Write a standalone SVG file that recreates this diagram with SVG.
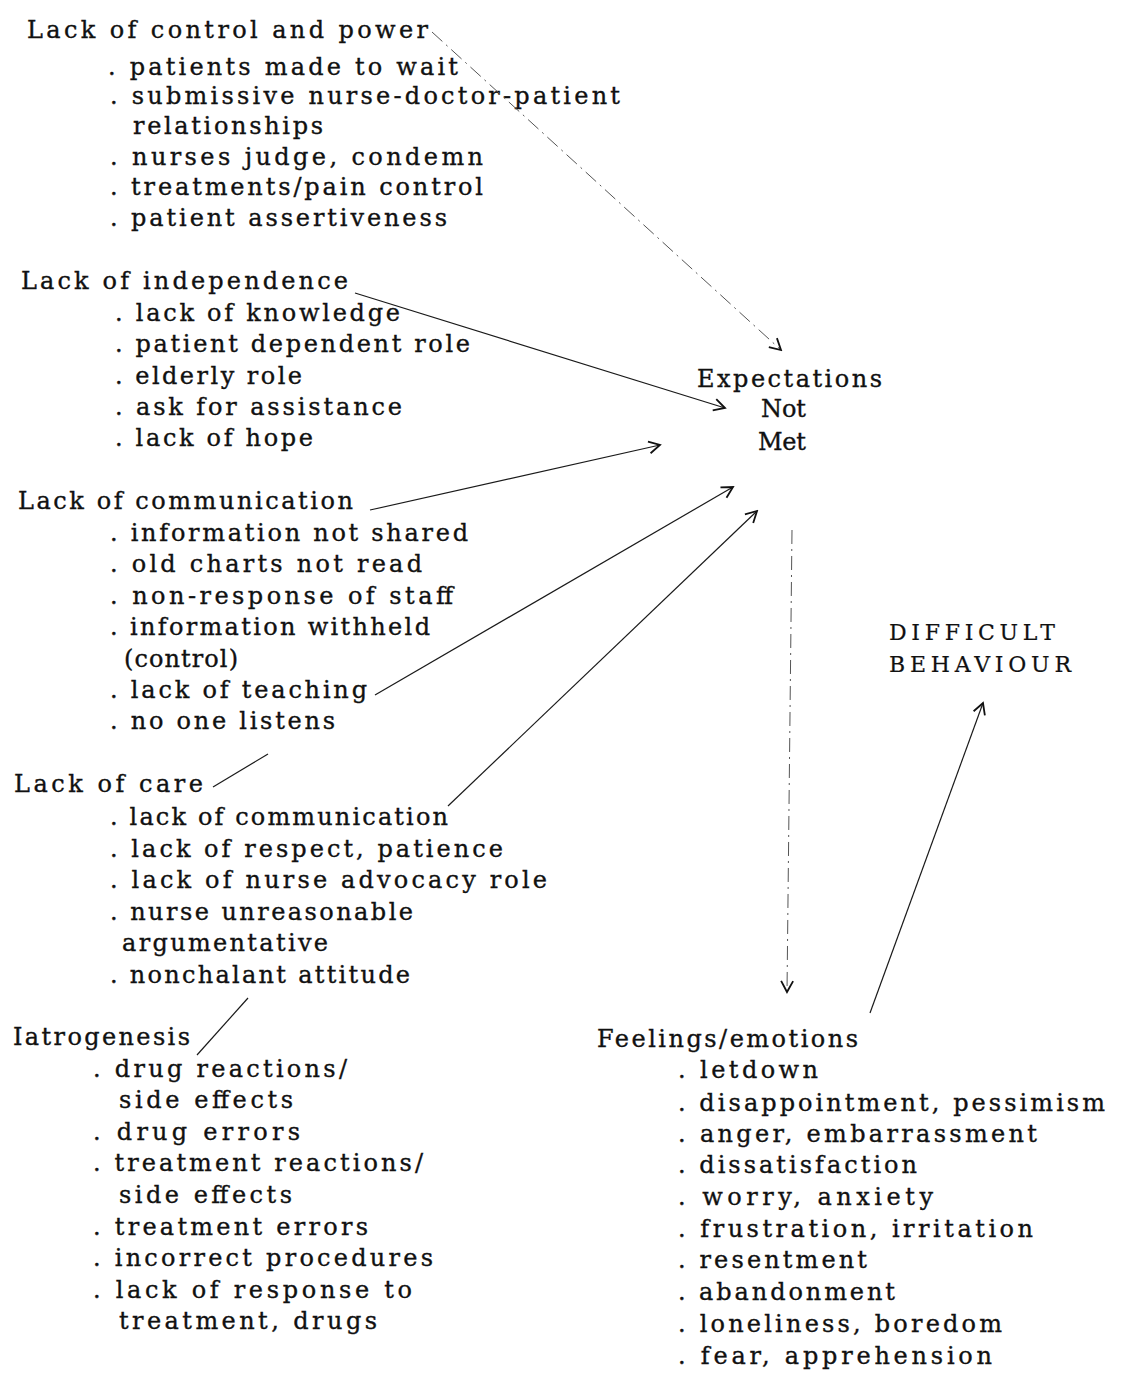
<svg xmlns="http://www.w3.org/2000/svg" width="1126" height="1385" viewBox="0 0 1126 1385">
<style>
text{font-family:"DejaVu Serif","Liberation Serif",serif;font-size:24px;fill:#111;stroke:#111;stroke-width:0.35;}
.cap{font-size:22px;stroke-width:0.2;}
.ln{stroke:#1a1a1a;stroke-width:1.2;fill:none;}
.faint{stroke:#555;stroke-width:1;stroke-dasharray:14 5 2 5;fill:none;}
</style>
<defs>
<marker id="ah" markerUnits="userSpaceOnUse" markerWidth="16" markerHeight="16" viewBox="0 0 16 16" refX="14" refY="8" orient="auto">
<path d="M3,2 L14,8 L3,14" fill="none" stroke="#111" stroke-width="1.8"/>
</marker>
</defs>
<rect width="1126" height="1385" fill="#fff"/>

<g id="control">
<text x="27" y="38" textLength="401" lengthAdjust="spacing">Lack of control and power</text>
<text x="108" y="75" textLength="350" lengthAdjust="spacing">. patients made to wait</text>
<text x="110" y="104" textLength="510" lengthAdjust="spacing">. submissive nurse-doctor-patient</text>
<text x="133" y="134" textLength="190" lengthAdjust="spacing">relationships</text>
<text x="110" y="165" textLength="373" lengthAdjust="spacing">. nurses judge, condemn</text>
<text x="110" y="195" textLength="373" lengthAdjust="spacing">. treatments/pain control</text>
<text x="110" y="226" textLength="337" lengthAdjust="spacing">. patient assertiveness</text>
</g>

<g id="independence">
<text x="21" y="289" textLength="327" lengthAdjust="spacing">Lack of independence</text>
<text x="115" y="321" textLength="285" lengthAdjust="spacing">. lack of knowledge</text>
<text x="115" y="352" textLength="355" lengthAdjust="spacing">. patient dependent role</text>
<text x="115" y="384" textLength="187" lengthAdjust="spacing">. elderly role</text>
<text x="115" y="415" textLength="287" lengthAdjust="spacing">. ask for assistance</text>
<text x="115" y="446" textLength="198" lengthAdjust="spacing">. lack of hope</text>
</g>

<g id="communication">
<text x="18" y="509" textLength="335" lengthAdjust="spacing">Lack of communication</text>
<text x="110" y="541" textLength="358" lengthAdjust="spacing">. information not shared</text>
<text x="110" y="572" textLength="312" lengthAdjust="spacing">. old charts not read</text>
<text x="110" y="604" textLength="343" lengthAdjust="spacing">. non-response of staff</text>
<text x="110" y="635" textLength="320" lengthAdjust="spacing">. information withheld</text>
<text x="124" y="667" textLength="114" lengthAdjust="spacing">(control)</text>
<text x="110" y="698" textLength="257" lengthAdjust="spacing">. lack of teaching</text>
<text x="110" y="729" textLength="225" lengthAdjust="spacing">. no one listens</text>
</g>

<g id="care">
<text x="14" y="792" textLength="189" lengthAdjust="spacing">Lack of care</text>
<text x="110" y="825" textLength="338" lengthAdjust="spacing">. lack of communication</text>
<text x="110" y="857" textLength="393" lengthAdjust="spacing">. lack of respect, patience</text>
<text x="110" y="888" textLength="437" lengthAdjust="spacing">. lack of nurse advocacy role</text>
<text x="110" y="920" textLength="303" lengthAdjust="spacing">. nurse unreasonable</text>
<text x="122" y="951" textLength="206" lengthAdjust="spacing">argumentative</text>
<text x="110" y="983" textLength="300" lengthAdjust="spacing">. nonchalant attitude</text>
</g>

<g id="iatrogenesis">
<text x="13" y="1045" textLength="177" lengthAdjust="spacing">Iatrogenesis</text>
<text x="93" y="1077" textLength="254" lengthAdjust="spacing">. drug reactions/</text>
<text x="119" y="1108" textLength="174" lengthAdjust="spacing">side effects</text>
<text x="93" y="1140" textLength="207" lengthAdjust="spacing">. drug errors</text>
<text x="93" y="1171" textLength="330" lengthAdjust="spacing">. treatment reactions/</text>
<text x="119" y="1203" textLength="173" lengthAdjust="spacing">side effects</text>
<text x="93" y="1235" textLength="275" lengthAdjust="spacing">. treatment errors</text>
<text x="93" y="1266" textLength="340" lengthAdjust="spacing">. incorrect procedures</text>
<text x="93" y="1298" textLength="319" lengthAdjust="spacing">. lack of response to</text>
<text x="119" y="1329" textLength="258" lengthAdjust="spacing">treatment, drugs</text>
</g>

<g id="expectations">
<text x="697" y="387" textLength="185" lengthAdjust="spacing">Expectations</text>
<text x="761" y="417" textLength="45" lengthAdjust="spacing">Not</text>
<text x="758" y="450" textLength="48" lengthAdjust="spacing">Met</text>
</g>

<g id="difficult">
<text class="cap" x="889" y="640" textLength="166" lengthAdjust="spacing">DIFFICULT</text>
<text class="cap" x="889" y="672" textLength="182" lengthAdjust="spacing">BEHAVIOUR</text>
</g>

<g id="feelings">
<text x="597" y="1047" textLength="261" lengthAdjust="spacing">Feelings/emotions</text>
<text x="678" y="1078" textLength="140" lengthAdjust="spacing">. letdown</text>
<text x="678" y="1111" textLength="427" lengthAdjust="spacing">. disappointment, pessimism</text>
<text x="678" y="1142" textLength="359" lengthAdjust="spacing">. anger, embarrassment</text>
<text x="678" y="1173" textLength="239" lengthAdjust="spacing">. dissatisfaction</text>
<text x="678" y="1205" textLength="255" lengthAdjust="spacing">. worry, anxiety</text>
<text x="678" y="1237" textLength="355" lengthAdjust="spacing">. frustration, irritation</text>
<text x="678" y="1268" textLength="189" lengthAdjust="spacing">. resentment</text>
<text x="678" y="1300" textLength="217" lengthAdjust="spacing">. abandonment</text>
<text x="678" y="1332" textLength="324" lengthAdjust="spacing">. loneliness, boredom</text>
<text x="678" y="1364" textLength="314" lengthAdjust="spacing">. fear, apprehension</text>
</g>

<g id="connectors">
<line class="faint" x1="432" y1="32" x2="781" y2="350" marker-end="url(#ah)"/>
<line class="ln" x1="355" y1="293" x2="725" y2="408" marker-end="url(#ah)"/>
<line class="ln" x1="370" y1="510" x2="660" y2="445" marker-end="url(#ah)"/>
<line class="ln" x1="375" y1="695" x2="733" y2="487" marker-end="url(#ah)"/>
<line class="ln" x1="448" y1="806" x2="757" y2="511" marker-end="url(#ah)"/>
<line class="ln" x1="213" y1="787" x2="268" y2="754"/>
<line class="ln" x1="197" y1="1055" x2="248" y2="998"/>
<line class="faint" x1="792" y1="530" x2="787" y2="992" marker-end="url(#ah)"/>
<line class="ln" x1="870" y1="1013" x2="983" y2="703" marker-end="url(#ah)"/>
</g>
</svg>
